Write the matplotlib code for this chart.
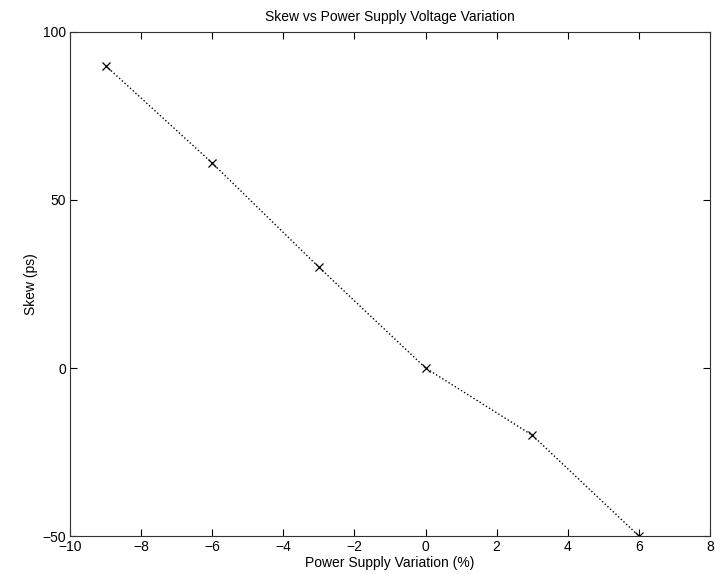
import matplotlib
matplotlib.use("Agg")
import matplotlib.pyplot as plt

variation = [-9, -6, -3, 0, 3, 6]
skew = [90, 61, 30, 0, -20, -50]
xticks = [-10, -8, -6, -4, -2, 0, 2, 4, 6, 8]
yticks = [-50, 0, 50, 100]

plt.rcParams['font.family'] = ['Liberation Sans', 'DejaVu Sans']
plt.rcParams['axes.unicode_minus'] = True

fig = plt.figure(figsize=(7.21, 5.74), dpi=100)
ax = fig.add_axes([70/721, 38/574, 640/721, 504/574])
ax.plot(variation, skew, linestyle=':', color='black', linewidth=1.0,
        marker='x', markersize=6, markeredgewidth=0.9)
ax.set_xlim(-10, 8)
ax.set_ylim(-50, 100)
ax.set_xticks(xticks)
ax.set_yticks(yticks)
ax.tick_params(direction='in', length=5, width=0.8, labelsize=10, top=True, right=True, pad=3)
for s in ax.spines.values():
    s.set_linewidth(0.8)
    s.set_color('#333333')
ax.set_title('Skew vs Power Supply Voltage Variation', fontsize=10, pad=8)
ax.set_xlabel('Power Supply Variation (%)', fontsize=10, labelpad=1)
ax.set_ylabel('Skew (ps)', fontsize=10, labelpad=3)
fig.savefig('out.png', dpi=100)
